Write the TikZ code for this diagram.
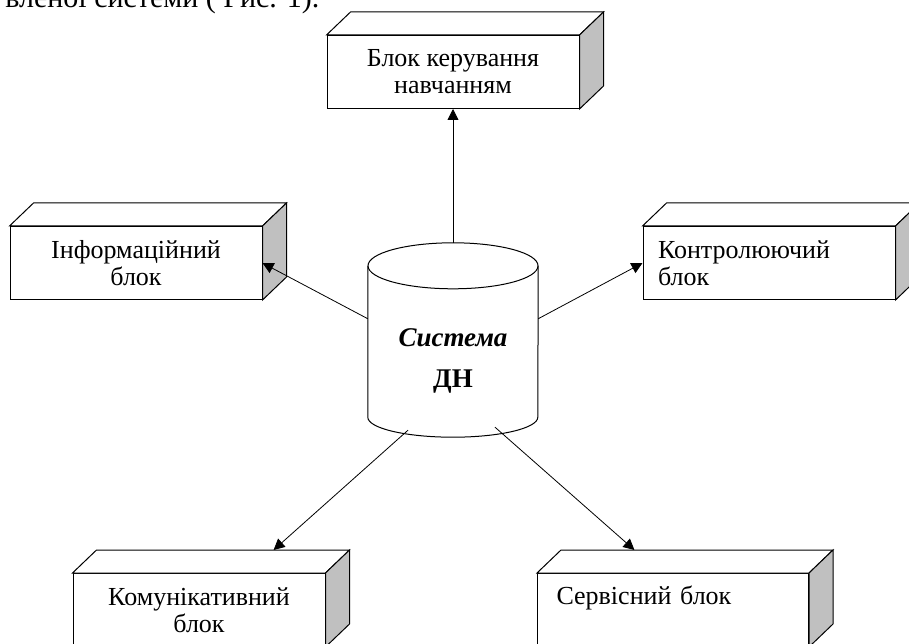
\documentclass[tikz,border=0pt]{standalone}
\usepackage{fontspec}
\setmainfont{Liberation Serif}
\usetikzlibrary{positioning,calc,arrows.meta}
\definecolor{bokgray}{RGB}{192,192,192}
\newcommand{\obyem}[1]{%
  \draw[line width=1pt,fill=white] (#1.north west) -- ++(24,-23) coordinate (#1-tl) -- ($(#1.north east)+(24,-23)$) coordinate (#1-tr) -- (#1.north east) -- cycle;
  \draw[line width=1pt,fill=bokgray] (#1.north east) -- (#1-tr) -- ($(#1.south east)+(24,-23)$) -- (#1.south east) -- cycle;
}
\begin{document}
\begin{tikzpicture}[x=1pt,y=-1pt,on grid,>={Triangle[width=11pt,length=11pt]},
  blok/.style={draw,line width=1pt,fill=white,minimum width=252pt,minimum height=73pt,align=center,font=\fontsize{26}{27}\selectfont},
  zvyazok/.style={->,line width=0.8pt}]
  \useasboundingbox (0,0) rectangle (909,644);
  \node (tekst) [anchor=base east,font=\fontsize{30}{31}\selectfont] at (323,8) {вленої системи ( Рис. 1).};
  \node (sys) [minimum width=170pt,minimum height=194pt,inner sep=0pt] at (453,340) {};
  \draw[line width=1pt] ($(sys.north west)+(0,23)$) -- ($(sys.south west)+(0,-20)$) arc[start angle=180,end angle=0,x radius=85,y radius=20] -- ($(sys.north east)+(0,23)$);
  \draw[line width=1pt] ($(sys.north)+(0,23)$) ellipse[x radius=85,y radius=23];
  \node (sysnazva) [below=21pt of sys,align=center,font=\fontsize{27}{28}\selectfont\bfseries] {\textit{Система}\\[13pt]ДН};
  \node (upr) [blok,above=268pt of sys] {Блок керування\\навчанням};
  \node (info) [blok,above left=77pt and 317pt of sys] {Інформаційний\\блок};
  \node (kontrol) [blok,above right=77pt and 316pt of sys,align=left,text width=222pt,inner xsep=15pt] {Контролюючий\\блок};
  \node (komun) [blok,below left=270pt and 254pt of sys] {Комунікативний\\блок};
  \node (servis) [blok,below right=270pt and 220pt of sys,minimum width=271pt,align=left,text width=233pt,inner xsep=19pt,inner ysep=10pt,text height=20pt,text depth=32pt] {Сервісний блок};
  \obyem{upr}
  \obyem{info}
  \obyem{kontrol}
  \obyem{komun}
  \obyem{servis}
  \coordinate (sys-lz) at ($(sys.south)+(-45,-7)$);
  \coordinate (sys-pz) at ($(sys.south)+(42,-10)$);
  \draw[zvyazok] (sys) -- (upr);
  \draw[zvyazok] (sys.166) -- (info.east);
  \draw[zvyazok] (sys.14) -- (kontrol.west);
  \draw[zvyazok] (sys-lz) -- ($(komun-tl)!0.7!(komun-tr)$);
  \draw[zvyazok] (sys-pz) -- ($(servis-tl)!0.27!(servis-tr)$);
\end{tikzpicture}
\end{document}
